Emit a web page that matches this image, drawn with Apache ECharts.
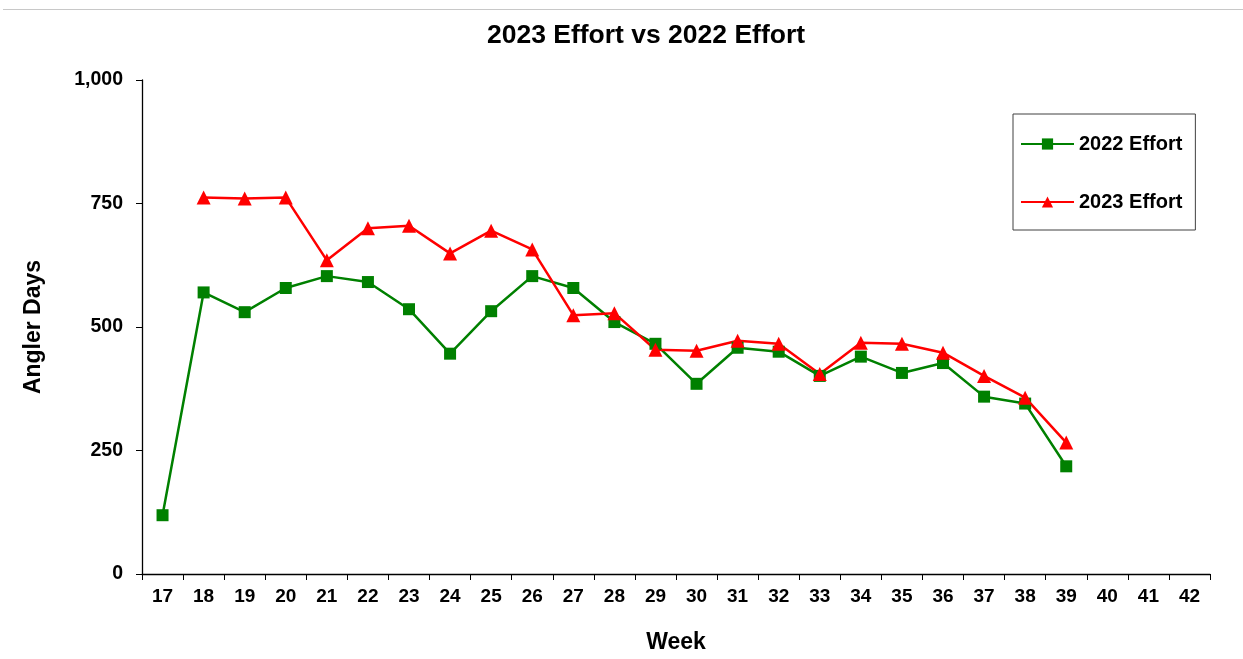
<!DOCTYPE html>
<html><head><meta charset="utf-8">
<script src="https://cdn.jsdelivr.net/npm/echarts@6/dist/echarts.min.js"></script>
<style>html,body{margin:0;padding:0;background:#fff;overflow:hidden}#c{width:1243px;height:659px}</style>
</head><body><div id="c"></div>
<script>
const weeks = ['17','18','19','20','21','22','23','24','25','26','27','28','29','30','31','32','33','34','35','36','37','38','39','40','41','42'];
const effort2022 = [119,570,530,579,603,591,536,446,532,603,579,510,466,385,458,450,401,440,407,427,359,345,218,null,null,null];
const effort2023 = [null,762,760,762,635,700,705,649,695,657,524,528,454,452,472,466,405,468,466,448,401,357,266,null,null,null];
const yTicks = [0,250,500,750,1000];

const chart = echarts.init(document.getElementById('c'));
const F = 'Liberation Sans, Arial, sans-serif';
chart.setOption({
  animation:false,
  backgroundColor:'#fff',
  title:{text:'2023 Effort vs 2022 Effort',left:641,top:17,textAlign:'center',
    textStyle:{fontFamily:F,fontSize:26.5,fontWeight:'bold',color:'#000'}},
  graphic:[{type:'line',shape:{x1:3,y1:9.5,x2:1243,y2:9.5},style:{stroke:'#c8c8c8',lineWidth:1}}],
  legend:{orient:'vertical',left:1013,top:114,width:182,padding:[20,13,18,7],itemGap:38,
    borderColor:'#404040',borderWidth:1,itemWidth:53,itemHeight:14,
    textStyle:{fontFamily:F,fontSize:20,fontWeight:'bold',color:'#000'},
    data:['2022 Effort','2023 Effort']},
  grid:{left:142,right:33,top:80,bottom:80,containLabel:false},
  xAxis:{type:'category',data:weeks,boundaryGap:true,name:'Week',nameLocation:'middle',nameGap:57,
    nameTextStyle:{fontFamily:F,fontSize:23,fontWeight:'bold',color:'#000'},
    axisLine:{lineStyle:{color:'#000',width:1.3}},
    axisTick:{show:true,alignWithLabel:false,length:6,lineStyle:{color:'#000'}},
    axisLabel:{fontFamily:F,fontSize:19,fontWeight:'bold',color:'#000',margin:13,interval:0},
    splitLine:{show:false}},
  yAxis:{type:'value',min:0,max:1000,interval:250,name:'Angler Days',nameLocation:'middle',nameGap:97,
    nameTextStyle:{fontFamily:F,fontSize:23,fontWeight:'bold',color:'#000'},
    axisLine:{show:true,lineStyle:{color:'#000',width:1.3}},
    axisTick:{show:true,length:6,lineStyle:{color:'#000'}},
    axisLabel:{fontFamily:F,fontSize:19.5,fontWeight:'bold',color:'#000',margin:19,
      formatter:v=>yTicks.includes(v)?v.toLocaleString('en-US'):''},
    splitLine:{show:false}},
  series:[
    {name:'2022 Effort',type:'line',data:effort2022,symbol:'rect',symbolSize:12,
      itemStyle:{color:'#008000'},lineStyle:{color:'#008000',width:2.5},connectNulls:false},
    {name:'2023 Effort',type:'line',data:effort2023,symbol:'triangle',symbolSize:14,
      itemStyle:{color:'#ff0000'},lineStyle:{color:'#ff0000',width:2.5},connectNulls:false}
  ]
});
</script></body></html>
